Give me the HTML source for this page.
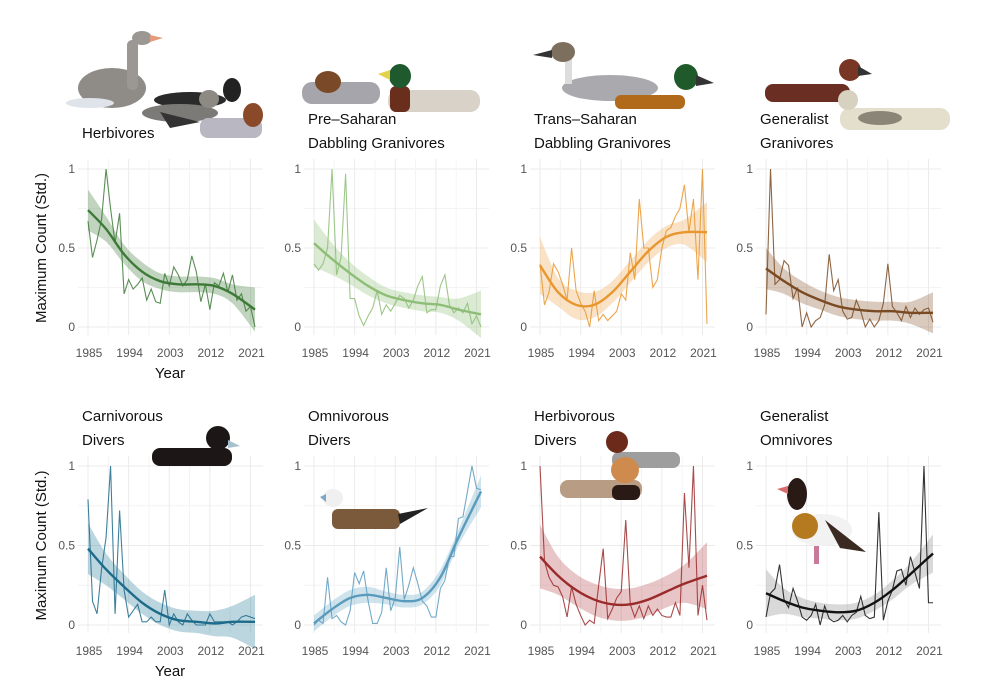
<!DOCTYPE html>
<html><head><meta charset="utf-8"><style>
body{margin:0;background:#fff;}
svg{display:block;font-family:"Liberation Sans","DejaVu Sans",sans-serif;}
</style></head><body>
<svg id="c" width="1000" height="688" viewBox="0 0 1000 688">
<g id="birds">
 <g>
  <ellipse cx="112" cy="88" rx="34" ry="20" fill="#8f8c87"/>
  <rect x="127" y="40" width="11" height="50" rx="5" fill="#9b9893"/>
  <ellipse cx="142" cy="38" rx="10" ry="7" fill="#9b9893"/>
  <polygon points="150,35 163,38 150,42" fill="#e59a7c"/>
  <ellipse cx="90" cy="103" rx="24" ry="5" fill="#dfe3ea"/>
 </g>
 <g>
  <ellipse cx="190" cy="100" rx="36" ry="8" fill="#2a2a2a"/>
  <ellipse cx="232" cy="90" rx="9" ry="12" fill="#222"/>
 </g>
 <g>
  <ellipse cx="180" cy="113" rx="38" ry="9" fill="#7b7a76"/>
  <ellipse cx="209" cy="99" rx="10" ry="9" fill="#8d8a84"/>
 </g>
 <g>
  <rect x="200" y="118" width="62" height="20" rx="8" fill="#b9b8c2"/>
  <ellipse cx="253" cy="115" rx="10" ry="12" fill="#8a4a2a"/>
  <polygon points="160,112 200,122 170,128" fill="#333"/>
 </g>
 <g>
  <rect x="302" y="82" width="78" height="22" rx="10" fill="#a5a5ab"/>
  <ellipse cx="328" cy="82" rx="13" ry="11" fill="#7a4a28"/>
 </g>
 <g>
  <rect x="388" y="90" width="92" height="22" rx="10" fill="#d8d2c8"/>
  <rect x="390" y="86" width="20" height="26" rx="6" fill="#6a2e1c"/>
  <ellipse cx="400" cy="76" rx="11" ry="12" fill="#1e5a2e"/>
  <polygon points="378,74 390,70 390,80" fill="#e3d14a"/>
 </g>
 <g>
  <ellipse cx="610" cy="88" rx="48" ry="13" fill="#a9a9ae"/>
  <rect x="565" y="54" width="7" height="30" fill="#ddd"/>
  <ellipse cx="563" cy="52" rx="12" ry="10" fill="#7d6f5e"/>
  <polygon points="533,55 552,50 552,58" fill="#333"/>
 </g>
 <g>
  <rect x="615" y="95" width="70" height="14" rx="6" fill="#b06a1a"/>
  <ellipse cx="686" cy="77" rx="12" ry="13" fill="#1f5a2a"/>
  <polygon points="696,75 714,83 696,86" fill="#333"/>
 </g>
 <g>
  <rect x="765" y="84" width="85" height="18" rx="8" fill="#6a2e22"/>
  <ellipse cx="850" cy="70" rx="11" ry="11" fill="#7a3624"/>
  <polygon points="858,66 872,74 858,76" fill="#333"/>
 </g>
 <g>
  <rect x="840" y="108" width="110" height="22" rx="10" fill="#e4dfcc"/>
  <ellipse cx="848" cy="100" rx="10" ry="10" fill="#d7d1c0"/>
  <ellipse cx="880" cy="118" rx="22" ry="7" fill="#8b8577"/>
 </g>
 <g>
  <rect x="152" y="448" width="80" height="18" rx="8" fill="#1c1616"/>
  <ellipse cx="218" cy="438" rx="12" ry="12" fill="#1c1616"/>
  <polygon points="228,440 240,446 228,448" fill="#a6c1d0"/>
 </g>
 <g>
  <rect x="332" y="509" width="68" height="20" rx="6" fill="#7b5a3b"/>
  <polygon points="398,514 428,508 400,524" fill="#222"/>
  <ellipse cx="333" cy="498" rx="10" ry="9" fill="#f0f0f0"/>
  <polygon points="320,497 326,494 326,502" fill="#7fa6c4"/>
 </g>
 <g>
  <rect x="612" y="452" width="68" height="16" rx="7" fill="#9e9e9e"/>
  <ellipse cx="617" cy="442" rx="11" ry="11" fill="#6b2a1a"/>
  <rect x="560" y="480" width="82" height="18" rx="8" fill="#b89c84"/>
  <ellipse cx="625" cy="470" rx="14" ry="13" fill="#cf8a4e"/>
  <rect x="612" y="485" width="28" height="15" rx="6" fill="#2a1a16"/>
 </g>
 <g>
  <ellipse cx="797" cy="494" rx="10" ry="16" fill="#2a1a16"/>
  <polygon points="777,489 788,486 788,494" fill="#d86c6c"/>
  <ellipse cx="822" cy="530" rx="30" ry="16" fill="#f2f2f2"/>
  <ellipse cx="805" cy="526" rx="13" ry="13" fill="#b57a1f"/>
  <polygon points="825,520 866,552 840,548" fill="#3a2a22"/>
  <rect x="814" y="546" width="5" height="18" fill="#c77a9a"/>
 </g>
</g>
<g id="panels"></g>
</svg>
<script>
const years = []; for (let y = 1985; y <= 2022; y++) years.push(y);
const knotYears = [1985,1989,1993,1997,2001,2005,2009,2013,2017,2022];
const xTicks = [1985,1994,2003,2012,2021];
const yTicks = [0,0.5,1];
const yTickLabels = ["0","0.5","1"];

const raw1 = [0.67,0.44,0.55,0.68,1.0,0.75,0.53,0.72,0.21,0.3,0.24,0.27,0.31,0.17,0.24,0.16,0.15,0.34,0.26,0.38,0.33,0.26,0.3,0.45,0.35,0.16,0.27,0.11,0.28,0.26,0.34,0.22,0.33,0.17,0.21,0.10,0.13,0.0];
const fit1 = [0.74,0.62,0.46,0.35,0.29,0.27,0.27,0.26,0.21,0.11];
const se1 = [0.13,0.08,0.06,0.06,0.05,0.05,0.05,0.05,0.06,0.14];
const raw2 = [0.40,0.36,0.40,0.50,1.0,0.33,0.44,0.97,0.18,0.18,0.07,0.01,0.07,0.12,0.23,0.08,0.14,0.10,0.15,0.20,0.18,0.12,0.17,0.26,0.32,0.09,0.11,0.11,0.26,0.33,0.14,0.09,0.12,0.09,0.15,0.02,0.07,0.0];
const fit2 = [0.53,0.43,0.34,0.26,0.20,0.17,0.15,0.14,0.11,0.08];
const se2 = [0.15,0.1,0.07,0.06,0.05,0.05,0.05,0.05,0.07,0.15];
const raw3 = [0.40,0.14,0.22,0.40,0.35,0.27,0.17,0.50,0.23,0.15,0.10,0.0,0.23,0.04,0.08,0.04,0.07,0.10,0.21,0.17,0.47,0.30,0.81,0.50,0.50,0.25,0.30,0.50,0.61,0.63,0.70,0.75,0.90,0.60,0.81,0.30,1.0,0.02];
const fit3 = [0.39,0.22,0.14,0.14,0.22,0.35,0.48,0.57,0.60,0.60];
const se3 = [0.18,0.09,0.09,0.08,0.07,0.07,0.07,0.07,0.08,0.19];
const raw4 = [0.08,1.0,0.27,0.30,0.42,0.39,0.18,0.25,0.0,0.09,0.0,0.04,0.06,0.14,0.46,0.23,0.30,0.10,0.05,0.06,0.17,0.10,0.0,0.05,0.0,0.04,0.15,0.40,0.13,0.09,0.04,0.13,0.06,0.12,0.08,0.11,0.12,0.03];
const fit4 = [0.37,0.29,0.22,0.17,0.13,0.11,0.10,0.10,0.09,0.09];
const se4 = [0.13,0.08,0.07,0.06,0.06,0.06,0.06,0.06,0.07,0.13];
const raw5 = [0.79,0.15,0.07,0.35,0.55,1.0,0.07,0.72,0.22,0.05,0.09,0.13,0.02,0.02,0.05,0.02,0.02,0.22,0.0,0.07,0.02,0.0,0.07,0.03,0.0,0.0,0.0,0.07,0.02,0.02,0.02,0.02,0.0,0.02,0.05,0.06,0.05,0.04];
const fit5 = [0.48,0.35,0.24,0.14,0.07,0.03,0.02,0.01,0.02,0.02];
const se5 = [0.16,0.1,0.08,0.07,0.07,0.07,0.07,0.08,0.1,0.17];
const raw6 = [0.0,0.03,0.01,0.30,0.04,0.06,0.02,0.0,0.09,0.33,0.26,0.34,0.15,0.01,0.01,0.08,0.36,0.09,0.17,0.49,0.16,0.25,0.36,0.26,0.15,0.12,0.05,0.05,0.23,0.28,0.43,0.43,0.67,0.68,0.84,1.0,0.86,0.85];
const fit6 = [0.01,0.10,0.17,0.19,0.17,0.15,0.17,0.30,0.55,0.84];
const se6 = [0.05,0.05,0.05,0.05,0.04,0.04,0.04,0.05,0.05,0.1];
const raw7 = [1.0,0.40,0.30,0.25,0.24,0.18,0.05,0.24,0.13,0.06,0.0,0.03,0.01,0.25,0.48,0.04,0.10,0.17,0.21,0.66,0.13,0.05,0.12,0.04,0.12,0.06,0.10,0.06,0.05,0.05,0.14,0.06,0.83,0.36,1.0,0.06,0.25,0.03];
const fit7 = [0.43,0.31,0.22,0.16,0.13,0.13,0.16,0.21,0.26,0.31];
const se7 = [0.2,0.12,0.1,0.1,0.1,0.1,0.1,0.1,0.12,0.21];
const raw8 = [0.05,0.20,0.23,0.38,0.16,0.11,0.23,0.15,0.05,0.03,0.06,0.13,0.0,0.12,0.04,0.02,0.03,0.06,0.02,0.06,0.08,0.18,0.06,0.04,0.05,0.71,0.03,0.15,0.22,0.34,0.35,0.25,0.43,0.33,0.23,1.0,0.14,0.14];
const fit8 = [0.20,0.15,0.11,0.09,0.08,0.09,0.14,0.22,0.32,0.45];
const se8 = [0.15,0.08,0.06,0.05,0.05,0.05,0.05,0.06,0.07,0.12];

const titles = [["Herbivores"],["Pre\u2013Saharan","Dabbling Granivores"],["Trans\u2013Saharan","Dabbling Granivores"],["Generalist","Granivores"],["Carnivorous","Divers"],["Omnivorous","Divers"],["Herbivorous","Divers"],["Generalist","Omnivores"]];
const colors = ["#3d7a37","#8dbd76","#e8962e","#7a4a22","#1d6b8a","#5a9bbd","#9a2b2b","#111111"];
const bands = ["#3d7a37","#8dbd76","#f0a650","#8a5a32","#2f7ea0","#6aa8c8","#b84a50","#888888"];
const raws=[raw1,raw2,raw3,raw4,raw5,raw6,raw7,raw8];
const fits=[fit1,fit2,fit3,fit4,fit5,fit6,fit7,fit8];
const ses=[se1,se2,se3,se4,se5,se6,se7,se8];

const NS="http://www.w3.org/2000/svg";
const root=document.getElementById('panels');
function mk(tag,attrs,parent){const e=document.createElementNS(NS,tag);for(const k in attrs)e.setAttribute(k,attrs[k]);parent.appendChild(e);return e;}
function smoothPath(pts){let d="M"+pts[0][0]+","+pts[0][1];
 for(let i=0;i<pts.length-1;i++){const p0=pts[Math.max(0,i-1)],p1=pts[i],p2=pts[i+1],p3=pts[Math.min(pts.length-1,i+2)];
  const c1=[p1[0]+(p2[0]-p0[0])/6,p1[1]+(p2[1]-p0[1])/6],c2=[p2[0]-(p3[0]-p1[0])/6,p2[1]-(p3[1]-p1[1])/6];
  d+=" C"+c1[0]+","+c1[1]+" "+c2[0]+","+c2[1]+" "+p2[0]+","+p2[1];}
 return d;}
function revPath(pts){const r=pts.slice().reverse();return smoothPath(r).replace(/^M/,"L");}

for(let p=0;p<8;p++){
 const col=p%4,row=Math.floor(p/4);
 const x0=88+226*col, x1=x0+167;
 const yTop=row===0?169:466, yBot=row===0?327:625;
 const xs=v=>x0+(v-1985)/(2022-1985)*(x1-x0);
 const ys=v=>yBot-v*(yBot-yTop);
 const g=mk('g',{},root);
 
 
 const gg=mk('g',{},g);
 
 
 for(let v=0;v<=1.001;v+=0.25){mk('line',{x1:x0-10,x2:x1+8,y1:ys(v),y2:ys(v),stroke:(Math.abs(v*2-Math.round(v*2))<0.01)?'#ebebeb':'#f4f4f4','stroke-width':1},gg);}
 for(let t=1985;t<=2023;t+=4.5){mk('line',{x1:xs(t),x2:xs(t),y1:yTop-10,y2:yBot+8,stroke:(Math.round((t-1985)/4.5)%2===0)?'#ebebeb':'#f4f4f4','stroke-width':1},gg);}
 xTicks.forEach(t=>{const e=mk('text',{x:xs(t)+1,y:yBot+30,'text-anchor':'middle','font-size':12,fill:'#555'},g);e.textContent=t;
  
  });
 yTicks.forEach((v,i)=>{const e=mk('text',{x:x0-13,y:ys(v)+4,'text-anchor':'end','font-size':12,fill:'#555'},g);e.textContent=yTickLabels[i];
  
  });
 const up=knotYears.map((k,i)=>[xs(k),ys(fits[p][i]+ses[p][i])]);
 const lo=knotYears.map((k,i)=>[xs(k),ys(fits[p][i]-ses[p][i])]);
 const band=mk('path',{d:smoothPath(up)+" "+revPath(lo)+" Z",fill:bands[p],'fill-opacity':0.32},g);
 
 
 const rl=mk('polyline',{points:raws[p].map((v,i)=>xs(years[i])+","+ys(v)).join(" "),fill:'none',stroke:colors[p],'stroke-width':1.1,'stroke-opacity':0.85},g);
 
 
 const fl=mk('path',{d:smoothPath(knotYears.map((k,i)=>[xs(k),ys(fits[p][i])])),fill:'none',stroke:colors[p],'stroke-width':2.4},g);
 
 
 const ty=row===0?(titles[p].length===1?138:124):421;
 titles[p].forEach((s,i)=>{const e=mk('text',{x:x0-6,y:ty+i*24,'font-size':15,fill:'#111'},g);e.textContent=s;
  
  });
 if(col===0){
  const cy=(yTop+yBot)/2;
  const e=mk('text',{x:46,y:cy,'text-anchor':'middle','font-size':15,fill:'#111',transform:'rotate(-90 46 '+cy+')'},g);e.textContent="Maximum Count (Std.)";
  
  
  const x=mk('text',{x:170,y:yBot+51,'text-anchor':'middle','font-size':15,fill:'#111'},g);x.textContent="Year";
  
  
 }
}
document.getElementById('c').appendChild(document.getElementById('birds'));
</script>
</body></html>
